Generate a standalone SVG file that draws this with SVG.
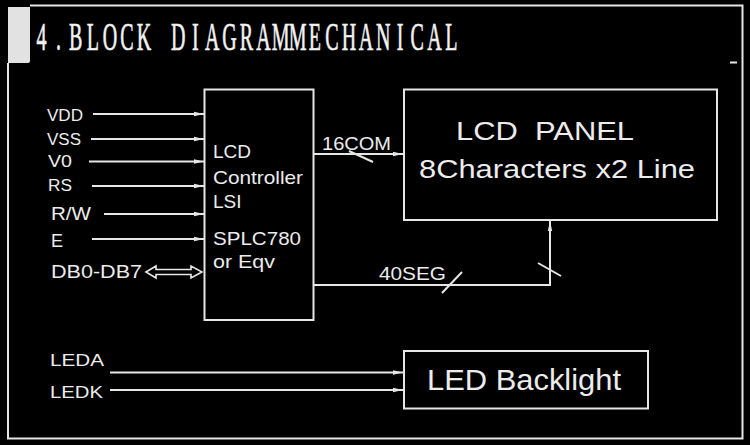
<svg xmlns="http://www.w3.org/2000/svg" width="750" height="445" viewBox="0 0 750 445">
<defs>
<marker id="ah" viewBox="0 0 10 6" refX="10" refY="3" markerWidth="10" markerHeight="6" markerUnits="userSpaceOnUse" orient="auto">
<path d="M0,0.8 L10,3 L0,5.2 Z" fill="#e6e6e6"/>
</marker>
<style>
.ln{stroke:#e6e6e6;stroke-width:2;fill:none}
.box{stroke:#e6e6e6;stroke-width:2;fill:none}
.t{font-family:"Liberation Sans",Arial,sans-serif;fill:#ececec;white-space:pre}
.title{font-family:"Liberation Serif","Times New Roman",serif;fill:#f2f2f2;stroke:#f2f2f2;stroke-width:0.7;white-space:pre}
</style>
</defs>
<rect x="0" y="0" width="750" height="445" fill="#000"/>
<g id="frame">
<path d="M8,63 L8,438.5 L742.5,438.5 L742.5,5.5 L30,5.5" class="ln" stroke-width="1.8"/>
<line x1="730" y1="62.5" x2="737" y2="62.5" class="ln" stroke-width="1.5"/>
<path d="M8,7 L30,7 L30,61 Q30,63 28,63 L8,63 Z" fill="#e2e2e2"/>
<text class="title" transform="scale(0.5,1)" y="50" font-size="40" x="73 112.2 138 173.3 205.3 240.5 273.6 317 341.9 383.8 410.2 444.4 479.6 512.7 543.5 577.7 617.4 650.4 683.5 717.7 751.8 793.7 821.2 854.3 890.7">4.BLOCK DIAGRAMMECHANICAL</text>
</g>
<g id="controller">
<rect class="box" x="204.5" y="89.5" width="109" height="230.5"/>
<text class="t" x="213" y="158" font-size="19">LCD</text>
<text class="t" x="213" y="183.5" font-size="19" textLength="90" lengthAdjust="spacingAndGlyphs">Controller</text>
<text class="t" x="213" y="208" font-size="19">LSI</text>
<text class="t" x="213" y="245" font-size="19" textLength="88" lengthAdjust="spacingAndGlyphs">SPLC780</text>
<text class="t" x="213" y="268" font-size="19" textLength="62" lengthAdjust="spacingAndGlyphs">or Eqv</text>
</g>
<g id="panel">
<rect class="box" x="404" y="89.5" width="313" height="130.5"/>
<text class="t" x="456" y="140" font-size="25" textLength="178" lengthAdjust="spacingAndGlyphs" xml:space="preserve">LCD  PANEL</text>
<text class="t" x="419" y="178" font-size="26" textLength="276" lengthAdjust="spacingAndGlyphs">8Characters x2 Line</text>
</g>
<g id="backlight">
<rect class="box" x="404" y="351" width="244" height="57.5"/>
<text class="t" x="427" y="390" font-size="29" textLength="194" lengthAdjust="spacingAndGlyphs">LED Backlight</text>
</g>
<g id="labels">
<text class="t" x="47" y="120.5" font-size="16" textLength="36" lengthAdjust="spacingAndGlyphs">VDD</text>
<text class="t" x="47" y="145" font-size="16" textLength="34" lengthAdjust="spacingAndGlyphs">VSS</text>
<text class="t" x="48" y="167" font-size="16" textLength="24" lengthAdjust="spacingAndGlyphs">V0</text>
<text class="t" x="48" y="191" font-size="16" textLength="24" lengthAdjust="spacingAndGlyphs">RS</text>
<text class="t" x="51" y="220" font-size="18" textLength="40" lengthAdjust="spacingAndGlyphs">R/W</text>
<text class="t" x="51" y="246.5" font-size="18">E</text>
<text class="t" x="51" y="278" font-size="18" textLength="91" lengthAdjust="spacingAndGlyphs">DB0-DB7</text>
<text class="t" x="50" y="366" font-size="17" textLength="54" lengthAdjust="spacingAndGlyphs">LEDA</text>
<text class="t" x="50" y="398" font-size="17" textLength="53" lengthAdjust="spacingAndGlyphs">LEDK</text>
<text class="t" x="322" y="150" font-size="18" textLength="69" lengthAdjust="spacingAndGlyphs">16COM</text>
<text class="t" x="379" y="280" font-size="18" textLength="67" lengthAdjust="spacingAndGlyphs">40SEG</text>
</g>
<g id="connectors">
<line class="ln" x1="93" y1="114" x2="204" y2="114" marker-end="url(#ah)"/>
<line class="ln" x1="91" y1="139" x2="204" y2="139" marker-end="url(#ah)"/>
<line class="ln" x1="89" y1="161.5" x2="204" y2="161.5" marker-end="url(#ah)"/>
<line class="ln" x1="92" y1="186" x2="204" y2="186" marker-end="url(#ah)"/>
<line class="ln" x1="104" y1="214" x2="204" y2="214" marker-end="url(#ah)"/>
<line class="ln" x1="92" y1="239" x2="204" y2="239" marker-end="url(#ah)"/>
<polygon points="146,272 156,266 156,269.5 191,269.5 191,266 202,272 191,278 191,274.5 156,274.5 156,278" fill="none" stroke="#e6e6e6" stroke-width="1.6" stroke-linejoin="miter"/>
<line class="ln" x1="313.5" y1="154" x2="403" y2="154" marker-end="url(#ah)"/>
<line class="ln" x1="349" y1="151" x2="373" y2="162"/>
<path class="ln" d="M313.5,285 L550,285 L550,221" marker-end="url(#ah)"/>
<line class="ln" x1="442" y1="293" x2="462" y2="272"/>
<line class="ln" x1="538" y1="263" x2="561" y2="276"/>
<line class="ln" x1="110" y1="372.5" x2="403" y2="372.5" marker-end="url(#ah)"/>
<line class="ln" x1="110" y1="390" x2="403" y2="390" marker-end="url(#ah)"/>
</g>
</svg>
